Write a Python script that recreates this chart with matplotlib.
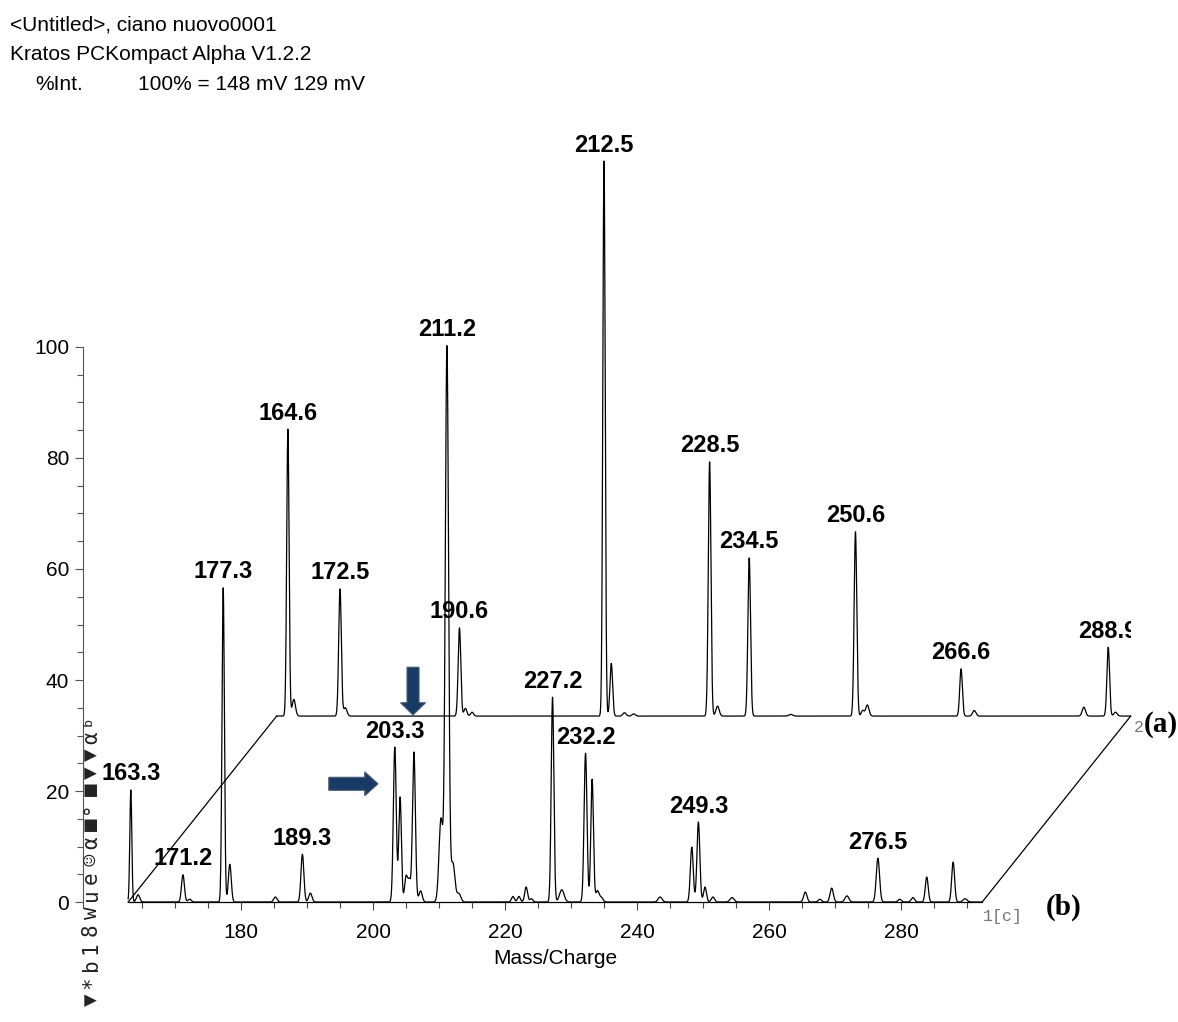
import numpy as np
import matplotlib
matplotlib.use("Agg")
import matplotlib.pyplot as plt
from matplotlib.patches import FancyArrow
from matplotlib.transforms import Bbox

plt.rcParams["font.family"] = ["Liberation Sans", "DejaVu Sans"]

# ---- spectrum (b), front trace: peak m/z, relative intensity (%), width ----
front_mz = [163.3, 164.4, 171.2, 172.2, 177.3, 178.3, 185.2, 189.3, 190.5,
            203.3, 204.1, 205.0, 205.5, 206.2, 207.2, 210.3, 211.2, 212.1, 213.0,
            221.2, 222.1, 223.2, 224.0, 227.2, 228.6, 232.2, 233.2, 234.0, 234.6,
            243.5, 248.3, 249.3, 250.3, 251.5, 254.4, 265.5, 267.7, 269.5, 271.8,
            276.5, 279.8, 281.8, 283.9, 287.9, 289.7]
front_int = [20.2, 1.3, 4.9, 0.5, 56.6, 6.8, 0.9, 8.6, 1.6,
             27.9, 18.9, 4.5, 3.8, 27.0, 2.0, 15.0, 100.0, 7.0, 1.5,
             1.0, 1.0, 2.7, 0.6, 36.9, 2.2, 26.8, 22.1, 2.0, 0.8,
             0.9, 9.9, 14.4, 2.7, 0.9, 0.8, 1.8, 0.5, 2.5, 1.1,
             7.9, 0.5, 0.8, 4.5, 7.2, 0.6]
front_sig = [0.15, 0.25, 0.22, 0.25, 0.18, 0.22, 0.25, 0.22, 0.25,
             0.22, 0.20, 0.22, 0.22, 0.22, 0.25, 0.30, 0.25, 0.30, 0.30,
             0.22, 0.22, 0.22, 0.22, 0.20, 0.35, 0.22, 0.20, 0.25, 0.25,
             0.30, 0.22, 0.22, 0.22, 0.25, 0.30, 0.25, 0.25, 0.25, 0.30,
             0.25, 0.25, 0.25, 0.22, 0.22, 0.30]
front_labels = [163.3, 171.2, 177.3, 189.3, 203.3, 211.2, 227.2, 232.2, 249.3, 276.5]

# ---- spectrum (a), rear trace ----
back_mz = [164.6, 165.5, 172.5, 173.3, 190.6, 191.5, 192.5,
           212.5, 213.6, 215.6, 217.0, 228.5, 229.7, 234.5, 240.8,
           250.6, 251.7, 252.4, 266.6, 268.6, 285.2, 288.9, 290.0]
back_int = [51.7, 3.0, 22.9, 1.5, 15.9, 1.4, 0.7,
            100.0, 9.5, 0.6, 0.4, 45.8, 1.8, 28.5, 0.3,
            33.2, 1.0, 2.0, 8.5, 1.0, 1.6, 12.4, 0.7]
back_sig = [0.18, 0.25, 0.20, 0.25, 0.20, 0.22, 0.22,
            0.18, 0.20, 0.25, 0.25, 0.20, 0.25, 0.20, 0.3,
            0.20, 0.22, 0.25, 0.20, 0.25, 0.25, 0.20, 0.25]
back_labels = [164.6, 172.5, 190.6, 212.5, 228.5, 234.5, 250.6, 266.6, 288.9]

mz_range = (162.9, 292.3)
depth_dx, depth_dy = 22.5, 33.5      # offset of the rear trace

x_major = [180, 200, 220, 240, 260, 280]
y_major = [0, 20, 40, 60, 80, 100]

header = ["<Untitled>, ciano nuovo0001", "Kratos PCKompact Alpha V1.2.2"]
int_label, scale_label = "%Int.", "100% = 148 mV 129 mV"
marker_strip = "▼*b18wue☺α■°■▼▼αᵇ"


def profile(mz, centers, heights, sigmas):
    y = np.zeros_like(mz, dtype=float)
    for c, h, s in zip(centers, heights, sigmas):
        y += h * np.exp(-0.5 * ((mz - c) / s) ** 2)
    return y


W, H = 1178, 1022
fig = plt.figure(figsize=(W / 100, H / 100), dpi=100)
ax = fig.add_axes([0, 0, 1, 1])
ax.set_xlim(143.48, 321.97)
ax.set_ylim(-21.62, 162.52)
ax.patch.set_visible(False)

mz = np.arange(mz_range[0], mz_range[1], 0.02)
yf = profile(mz, front_mz, front_int, front_sig)
yb = profile(mz, back_mz, back_int, back_sig)

lw = 0.9
ax.plot(mz + depth_dx, yb + depth_dy, color="black", lw=lw)
ax.plot(mz, yf, color="black", lw=lw)
for x0 in mz_range:
    ax.plot([x0, x0 + depth_dx], [0, depth_dy], color="black", lw=lw)

lab_kw = dict(textcoords="offset pixels", xytext=(0, 16), ha="center",
              va="center", fontsize=17, fontweight="bold")
for m in front_labels:
    top = profile(np.array([m]), front_mz, front_int, front_sig)[0]
    ax.annotate(f"{m:.1f}", (m, top), **lab_kw)
clip = ax.transData.transform_bbox(
    Bbox([[143.5, -21.6], [mz_range[1] + depth_dx, 162.0]]))
for m in back_labels:
    top = profile(np.array([m]), back_mz, back_int, back_sig)[0]
    t = ax.annotate(f"{m:.1f}", (m + depth_dx, top + depth_dy), **lab_kw)
    t.set_clip_on(True)
    t.set_clip_box(clip)

# axes
for side in ("top", "right"):
    ax.spines[side].set_visible(False)
ax.spines["left"].set_position(("data", 156.06))
ax.spines["left"].set_bounds(-1, 100)
ax.spines["left"].set_color("#555555")
ax.spines["bottom"].set_position(("data", 0))
ax.spines["bottom"].set_bounds(*mz_range)
ax.spines["bottom"].set_linewidth(lw)
ax.set_xticks(x_major)
ax.set_xticks(np.arange(165, 291, 5), minor=True)
ax.set_yticks(y_major)
ax.set_yticks(np.arange(0, 101, 5), minor=True)
ax.tick_params(axis="x", which="major", length=6, width=0.8, pad=9,
               labelsize=15, color="#444444")
ax.tick_params(axis="x", which="minor", length=4, width=0.8, color="#444444")
ax.tick_params(axis="y", which="major", length=6, width=0.8, pad=4,
               labelsize=15, color="#555555")
ax.tick_params(axis="y", which="minor", length=4, width=0.8, color="#555555")

ax.text(143.48 + 555 / 6.6, -10.1, "Mass/Charge", ha="center",
        va="center", fontsize=15)

# header
fig.text(10 / W, 1 - 25 / H, header[0], fontsize=15, va="center")
fig.text(10 / W, 1 - 55 / H, header[1], fontsize=15, va="center")
fig.text(35 / W, 1 - 84 / H, int_label, fontsize=15, va="center")
fig.text(138 / W, 1 - 84 / H, scale_label, fontsize=15, va="center")

# trace tags
serif = ["Liberation Serif", "DejaVu Serif"]
ax.text(mz_range[1] + depth_dx + 4.6, depth_dy - 1.5, "(a)", family=serif,
        fontweight="bold", fontsize=21, ha="center", va="center")
ax.text(mz_range[1] + 12.3, -0.9, "(b)", family=serif,
        fontweight="bold", fontsize=21, ha="center", va="center")
mono = ["Liberation Mono", "DejaVu Sans Mono"]
ax.text(mz_range[1] + depth_dx + 1.2, depth_dy - 2.0, "2", family=mono,
        fontsize=12, color="#777777", ha="center", va="center")
ax.text(mz_range[1] + 0.1, -2.6, "1[c]", family=mono,
        fontsize=12, color="#777777", ha="left", va="center")

# marker legend strip along the left edge, one glyph at a time
strip_x = 143.48 + 91 / 6.6
for i, ch in enumerate(marker_strip):
    ypix = 1000 - i * 17.5
    ax.text(strip_x, (902 - ypix) / 5.55, ch, rotation=90,
            family=["DejaVu Sans Mono", "DejaVu Sans"],
            fontsize=15, ha="center", va="center", color="#222222")

# arrows pointing at the 203.3 cluster
navy = "#173b64"
ax.add_patch(FancyArrow(206.06, 42.3, 0, -8.6, width=1.82, head_width=3.8,
                        head_length=2.2, length_includes_head=True,
                        fc=navy, ec="#4a5a70", lw=0.8))
ax.add_patch(FancyArrow(193.3, 21.3, 7.45, 0, width=2.34, head_width=4.3,
                        head_length=2.0, length_includes_head=True,
                        fc=navy, ec="#4a5a70", lw=0.8))

fig.savefig("out.png", dpi=100)
